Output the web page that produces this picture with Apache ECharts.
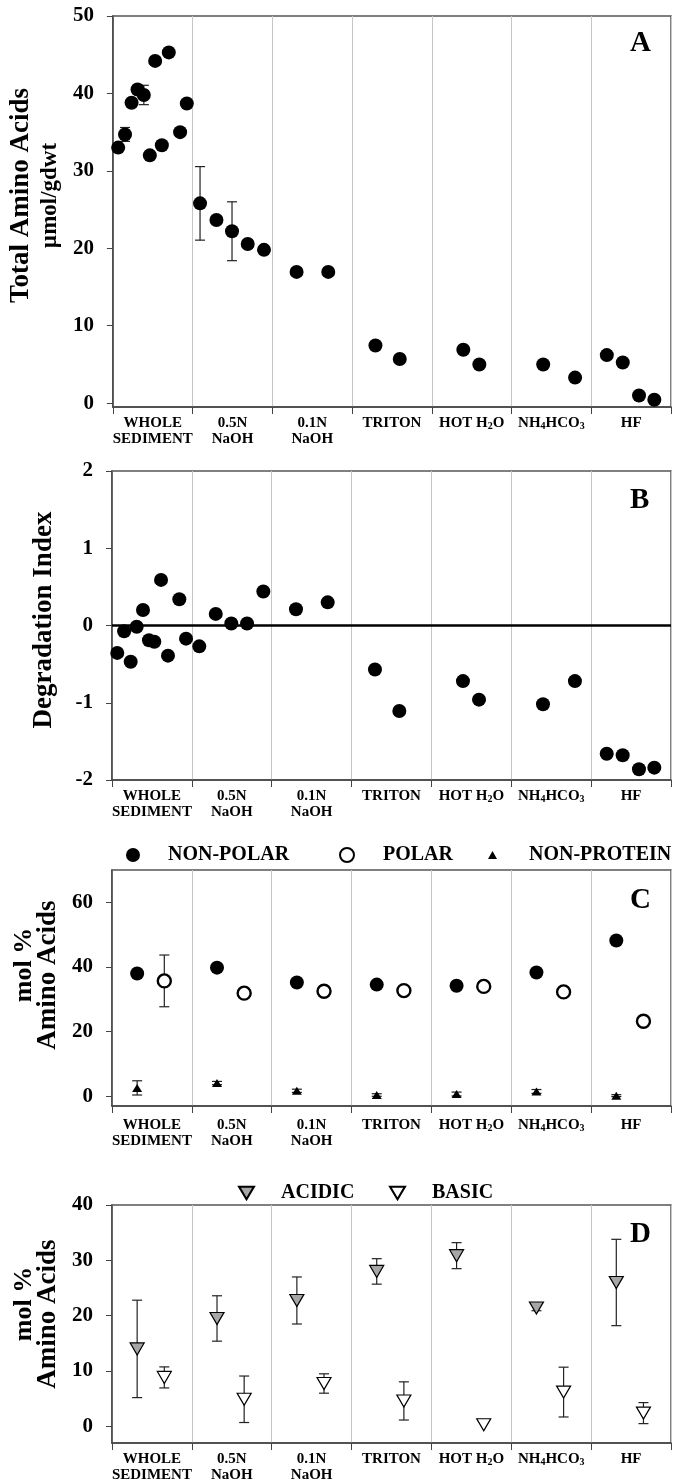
<!DOCTYPE html>
<html>
<head>
<meta charset="utf-8">
<script src="https://cdn.jsdelivr.net/npm/echarts@6/dist/echarts.min.js"></script>
<style>
    html, body { margin: 0; padding: 0; background: #fff; }
    #chart { width: 673px; height: 1483px; }
</style>
</head>
<body>
<div id="chart"></div>
<script>
var categories = ['WHOLE\nSEDIMENT', '0.5N\nNaOH', '0.1N\nNaOH', 'TRITON', 'HOT H{s|2}O', 'NH{s|4}HCO{s|3}', 'HF'];

// sample positions along the extraction axis (category units)
var sampleX = [0.066, 0.152, 0.234, 0.309, 0.388, 0.463, 0.530, 0.614, 0.701, 0.843, 0.927,
    1.093, 1.299, 1.494, 1.691, 1.895,
    2.304, 2.701,
    3.293, 3.598,
    4.395, 4.596,
    5.397, 5.797,
    6.195, 6.395, 6.599, 6.791];

// A - total amino acids, umol/gdwt
var totalAA = [33.0, 34.7, 38.8, 40.5, 39.8, 32.0, 44.2, 33.3, 45.3, 35.0, 38.7,
    25.8, 23.65, 22.2, 20.55, 19.8,
    16.95, 16.95,
    7.45, 5.7,
    6.9, 4.98,
    4.98, 3.3,
    6.2, 5.24, 0.98, 0.43];
var totalAAErr = [0, 0.9, 0, 0, 1.25, 0, 0, 0, 0, 0, 0,
    4.75, 0, 3.8, 0, 0,
    0, 0, 0, 0, 0, 0, 0, 0, 0, 0, 0, 0];

// B - degradation index
var degIndex = [-0.355, -0.074, -0.47, -0.017, 0.2, -0.19, -0.21, 0.59, -0.39, 0.34, -0.17,
    -0.27, 0.15, 0.026, 0.026, 0.44,
    0.21, 0.30,
    -0.57, -1.106,
    -0.72, -0.96,
    -1.02, -0.72,
    -1.66, -1.68, -1.86, -1.84];

// C - mol % by class
var nonPolar = [38.0, 39.8, 35.2, 34.55, 34.2, 38.3, 48.2];
var polar = [35.7, 31.9, 32.5, 32.7, 34.0, 32.3, 23.2];
var polarErr = [8.0, 0, 0, 0, 0, 0, 0];
var nonProtein = [2.6, 4.1, 1.7, 0.4, 0.7, 1.5, 0.2];
var nonProteinErr = [2.2, 0.5, 0.5, 0.4, 0.6, 0.6, 0.3];

// D - acidic / basic
var acidic = [14.0, 19.5, 22.75, 28.0, 30.85, 21.4, 26.0];
var acidicErr = [8.8, 4.1, 4.25, 2.3, 2.35, 0.5, 7.8];
var basic = [8.85, 4.9, 7.75, 4.6, 0.3, 6.2, 2.4];
var basicErr = [1.9, 4.2, 1.75, 3.45, 0, 4.5, 1.9];

var serif = "'Liberation Serif', 'Times New Roman', serif";
var axisColor = '#444';
var leftOffset = 0.315, rightOffset = 0.655;
var downTri = 'path://M0,0L20,0L10,17Z';

var myChart = echarts.init(document.getElementById('chart'));

function catAxis(g, margin) {
    return {
        type: 'category', gridIndex: g, data: categories, boundaryGap: true,
        axisLine: { onZero: false, lineStyle: { color: axisColor, width: 1.5 } },
        axisTick: { show: true, length: 7, lineStyle: { color: axisColor } },
        axisLabel: {
            interval: 0, margin: margin, color: '#000', fontFamily: serif, fontWeight: 'bold',
            fontSize: 15, lineHeight: 16,
            rich: { s: { fontFamily: serif, fontWeight: 'bold', fontSize: 10, lineHeight: 10, verticalAlign: 'bottom', color: '#000' } }
        },
        splitLine: { show: true, lineStyle: { color: '#c6c6c6', width: 1 } }
    };
}
function valAxis(g) {
    return { type: 'value', gridIndex: g, min: 0, max: 7, show: false };
}
function yAxis(g, min, max, ticks, name, gap, shift) {
    return {
        type: 'value', gridIndex: g, min: min, max: max,
        axisLine: { show: true, onZero: false, lineStyle: { color: axisColor, width: 1.5 } },
        axisTick: { show: true, length: 6, customValues: ticks, lineStyle: { color: axisColor } },
        axisLabel: { customValues: ticks, margin: 19, color: '#000', fontFamily: serif, fontWeight: 'bold', fontSize: 21 },
        splitLine: { show: false },
        name: name, nameLocation: 'middle', nameRotate: 90, nameGap: gap,
        nameTextStyle: {
            padding: [0, 0, 0, shift],
            rich: {
                a: { fontFamily: serif, fontWeight: 'bold', fontSize: 27, lineHeight: 30, color: '#000' },
                b: { fontFamily: serif, fontWeight: 'bold', fontSize: 23, lineHeight: 28, color: '#000' },
                m: { fontFamily: serif, fontWeight: 'bold', fontSize: 26, lineHeight: 22, color: '#000', padding: [0, 0, 0, 20] },
                c: { fontFamily: serif, fontWeight: 'bold', fontSize: 27, lineHeight: 24, color: '#000' }
            }
        }
    };
}
function errorSeries(xi, yi, data) {
    return {
        type: 'custom', xAxisIndex: xi, yAxisIndex: yi, silent: true, z: 2,
        renderItem: function (params, api) {
            var e = api.value(2);
            if (!e) return;
            var top = api.coord([api.value(0), api.value(1) + e]);
            var bot = api.coord([api.value(0), api.value(1) - e]);
            var st = { stroke: '#222', lineWidth: 1.2 };
            return {
                type: 'group', children: [
                    { type: 'line', shape: { x1: top[0], y1: top[1], x2: bot[0], y2: bot[1] }, style: st },
                    { type: 'line', shape: { x1: top[0] - 5, y1: top[1], x2: top[0] + 5, y2: top[1] }, style: st },
                    { type: 'line', shape: { x1: bot[0] - 5, y1: bot[1], x2: bot[0] + 5, y2: bot[1] }, style: st }
                ]
            };
        },
        encode: { x: 0, y: 1 },
        data: data
    };
}
function legend(name, left, top, w, h, pad) {
    return {
        data: [name], left: left, top: top, itemWidth: w, itemHeight: h, selectedMode: false, padding: 0,
        textStyle: { fontFamily: serif, fontWeight: 'bold', fontSize: 20, color: '#000', padding: [0, 0, 0, pad] }
    };
}
function letter(t, left, top) {
    return { text: t, left: left, top: top, padding: 0, textStyle: { fontFamily: serif, fontWeight: 'bold', fontSize: 29, color: '#000' } };
}

var samplePts = function (vals) { return sampleX.map(function (x, i) { return [x, vals[i]]; }); };
var catPts = function (vals, off, errs) {
    return vals.map(function (v, i) { return errs ? [i + off, v, errs[i]] : [i + off, v]; });
};

var option = {
    animation: false,
    backgroundColor: '#fff',
    title: [letter('A', 630, 29), letter('B', 630, 486), letter('C', 630, 886), letter('D', 630, 1220)],
    legend: [
        legend('NON-POLAR', 126, 845, 14, 14, 23),
        legend('POLAR', 339, 845, 14, 14, 24),
        legend('NON-PROTEIN', 488, 845, 9, 8, 27),
        legend('ACIDIC', 238, 1183, 15, 13, 22),
        legend('BASIC', 389, 1183, 15, 13, 22)
    ],
    grid: [
        { left: 112, right: 2, top: 16, height: 391, show: true, borderColor: '#555', borderWidth: 1.5 },
        { left: 112, right: 2, top: 471, height: 309, show: true, borderColor: '#555', borderWidth: 1.5 },
        { left: 112, right: 2, top: 870, height: 236, show: true, borderColor: '#555', borderWidth: 1.5 },
        { left: 112, right: 2, top: 1205, height: 238, show: true, borderColor: '#555', borderWidth: 1.5 }
    ],
    xAxis: [
        catAxis(0, 8), valAxis(0),
        catAxis(1, 8), valAxis(1),
        catAxis(2, 11), valAxis(2),
        catAxis(3, 8), valAxis(3)
    ],
    yAxis: [
        yAxis(0, -0.5, 50, [0, 10, 20, 30, 40, 50], '{a|Total Amino Acids}\n{b|\u00b5mol/gdwt}', 38, 32),
        yAxis(1, -2, 2, [-2, -1, 0, 1, 2], '{a|Degradation Index}', 53, 11),
        yAxis(2, -3, 70, [0, 20, 40, 60], '{m|mol %}\n{c|Amino Acids}', 49, 26),
        yAxis(3, -3, 40, [0, 10, 20, 30, 40], '{m|mol %}\n{c|Amino Acids}', 49, 20)
    ],
    series: [
        errorSeries(1, 0, sampleX.map(function (x, i) { return [x, totalAA[i], totalAAErr[i]]; })),
        {
            name: 'Total', type: 'scatter', xAxisIndex: 1, yAxisIndex: 0, z: 3,
            symbol: 'circle', symbolSize: 14, itemStyle: { color: '#000', opacity: 1 },
            data: samplePts(totalAA)
        },
        {
            name: 'Degradation', type: 'scatter', xAxisIndex: 3, yAxisIndex: 1, z: 3,
            symbol: 'circle', symbolSize: 14, itemStyle: { color: '#000', opacity: 1 },
            data: samplePts(degIndex),
            markLine: {
                silent: true, symbol: 'none', label: { show: false },
                lineStyle: { color: '#000', width: 2.5, type: 'solid' },
                data: [{ yAxis: 0 }]
            }
        },
        errorSeries(5, 2, catPts(polar, rightOffset, polarErr)),
        errorSeries(5, 2, catPts(nonProtein, leftOffset, nonProteinErr)),
        {
            name: 'NON-POLAR', type: 'scatter', xAxisIndex: 5, yAxisIndex: 2, z: 3,
            symbol: 'circle', symbolSize: 14, itemStyle: { color: '#000', opacity: 1 },
            data: catPts(nonPolar, leftOffset)
        },
        {
            name: 'POLAR', type: 'scatter', xAxisIndex: 5, yAxisIndex: 2, z: 3,
            symbol: 'circle', symbolSize: 13, itemStyle: { color: '#fff', borderColor: '#000', borderWidth: 2.4, opacity: 1 },
            data: catPts(polar, rightOffset)
        },
        {
            name: 'NON-PROTEIN', type: 'scatter', xAxisIndex: 5, yAxisIndex: 2, z: 3,
            symbol: 'triangle', symbolSize: [10, 8], itemStyle: { color: '#000', opacity: 1 },
            data: catPts(nonProtein, leftOffset)
        },
        errorSeries(7, 3, catPts(acidic, leftOffset, acidicErr)),
        errorSeries(7, 3, catPts(basic, rightOffset, basicErr)),
        {
            name: 'ACIDIC', type: 'scatter', xAxisIndex: 7, yAxisIndex: 3, z: 3,
            symbol: downTri, symbolSize: [14, 12], itemStyle: { color: '#a6a6a6', borderColor: '#000', borderWidth: 1.2, opacity: 1 },
            data: catPts(acidic, leftOffset)
        },
        {
            name: 'BASIC', type: 'scatter', xAxisIndex: 7, yAxisIndex: 3, z: 3,
            symbol: downTri, symbolSize: [14, 12], itemStyle: { color: '#fff', borderColor: '#000', borderWidth: 1.2, opacity: 1 },
            data: catPts(basic, rightOffset)
        }
    ]
};

myChart.setOption(option);
</script>
</body>
</html>
